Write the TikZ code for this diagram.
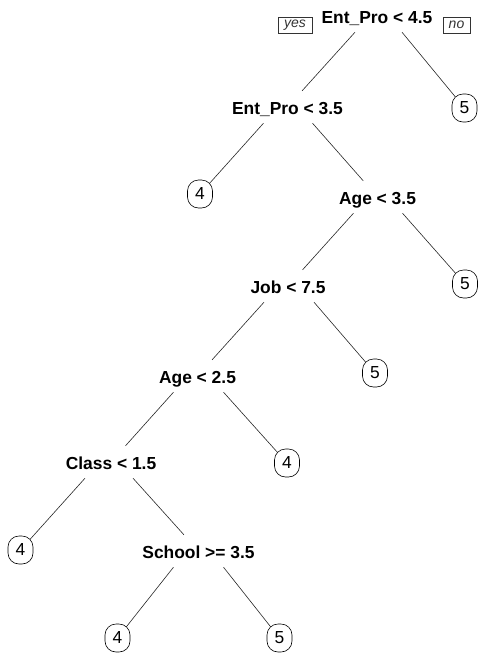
\documentclass[tikz,border=0pt]{standalone}
\usepackage{fontspec}
\setmainfont{Liberation Sans}
\usetikzlibrary{backgrounds}
\begin{document}
\begin{tikzpicture}[x=1pt,y=-1pt,
  split/.style={anchor=base,font=\bfseries\fontsize{17.4}{18}\selectfont,
    text height=14pt,text depth=0pt,inner ysep=9pt,inner xsep=2pt},
  leaf/.style={draw=black,line width=0.6pt,fill=white,rounded corners=11pt,
    minimum width=25pt,minimum height=28pt,inner sep=0pt,
    font=\fontsize{17.4}{18}\selectfont},
  tag/.style={draw=black!80,line width=0.6pt,minimum height=16pt,inner sep=0pt,
    font=\itshape\fontsize{14}{14}\selectfont,text=black!80},
  branch/.style={draw=black!85,line width=0.6pt}]
\useasboundingbox (0,0) rectangle (479,654);
% split labels
\node[split] (n1) at (377,23) {Ent\_Pro < 4.5};
\node[split] (n2) at (287.5,114) {Ent\_Pro < 3.5};
\node[split] (n3) at (377.5,204) {Age < 3.5};
\node[split] (n4) at (288,293) {Job < 7.5};
\node[split] (n5) at (197.5,383) {Age < 2.5};
\node[split] (n6) at (111,469) {Class < 1.5};
\node[split] (n7) at (198.5,558) {School >= 3.5};
% leaves
\node[leaf] (l1) at (464.5,108) {5};
\node[leaf] (l2) at (200,194) {4};
\node[leaf] (l3) at (465,284) {5};
\node[leaf] (l4) at (375,373) {5};
\node[leaf] (l5) at (287,463) {4};
\node[leaf] (l6) at (20.5,550) {4};
\node[leaf] (l7) at (117.5,638) {4};
\node[leaf] (l8) at (279.5,638) {5};
% yes / no
\node[tag,minimum width=34pt] (yes) at (295,25) {yes};
\node[tag,minimum width=27pt] (no) at (456.5,25) {no};
% branches
\begin{pgfonlayer}{background}
\draw[branch] ([xshift=-22pt]n1.south) -- (n2);
\draw[branch] ([xshift=25pt]n1.south) -- (l1.center);
\draw[branch] ([xshift=-24pt]n2.south) -- (l2.center);
\draw[branch] ([xshift=25pt]n2.south) -- (n3);
\draw[branch] ([xshift=-24pt]n3.south) -- (n4);
\draw[branch] ([xshift=25pt]n3.south) -- (l3.center);
\draw[branch] ([xshift=-24pt]n4.south) -- (n5);
\draw[branch] ([xshift=26pt]n4.south) -- (l4.center);
\draw[branch] ([xshift=-24pt]n5.south) -- (n6);
\draw[branch] ([xshift=26pt]n5.south) -- (l5.center);
\draw[branch] ([xshift=-26pt]n6.south) -- (l6.center);
\draw[branch] ([xshift=22pt]n6.south) -- (n7);
\draw[branch] ([xshift=-25pt]n7.south) -- (l7.center);
\draw[branch] ([xshift=25pt]n7.south) -- (l8.center);
\end{pgfonlayer}
\end{tikzpicture}
\end{document}
